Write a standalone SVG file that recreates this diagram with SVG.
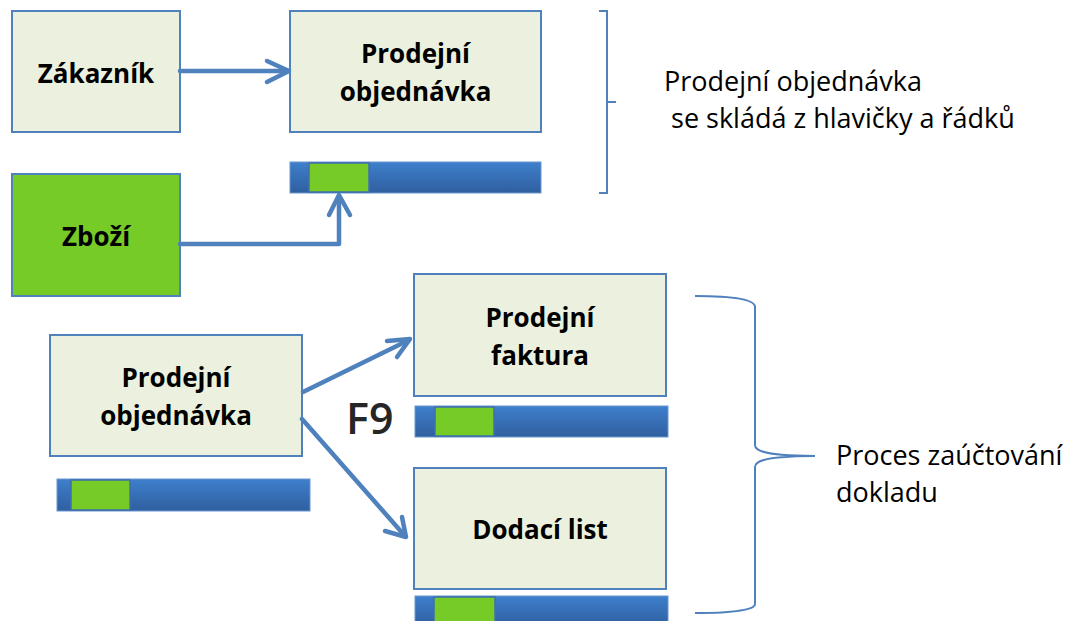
<svg xmlns="http://www.w3.org/2000/svg" width="1080" height="621" viewBox="0 0 1080 621">
<defs>
<linearGradient id="barg" x1="0" y1="0" x2="0" y2="1">
<stop offset="0" stop-color="#3E7FCC"/>
<stop offset="1" stop-color="#2F5F9F"/>
</linearGradient>
<style>
.box{fill:#EBF1DE;stroke:#4F81BD;stroke-width:2}
.green{fill:#77CB26;stroke:#4F81BD;stroke-width:2}
.bar{fill:url(#barg);stroke:#6B98D0;stroke-width:1}
.seg{fill:#77CB26;stroke:#3F6FAE;stroke-width:1.5}
.bt{font-family:"Open Sans","Liberation Sans",sans-serif;font-weight:bold;font-size:26px;fill:#000;text-anchor:middle}
.nt{font-family:"Open Sans","Liberation Sans",sans-serif;font-size:27px;fill:#000}
.conn{fill:none;stroke:#4F81BD;stroke-width:4.5;stroke-linecap:round;stroke-linejoin:round}
.brace{fill:none;stroke:#4F81BD;stroke-width:2}
</style>
</defs>
<rect width="1080" height="621" fill="#FFFFFF"/>

<g id="zakaznik">
<rect class="box" x="12" y="11" width="168" height="121"/>
<text class="bt" x="96" y="83">Zákazník</text>
</g>

<g id="prodejni-objednavka">
<rect class="box" x="290" y="11" width="251" height="121"/>
<text class="bt" x="415.5" y="63">Prodejní</text>
<text class="bt" x="415.5" y="101">objednávka</text>
<rect class="bar" x="290" y="162" width="251" height="31"/>
<rect class="seg" x="309" y="163" width="60" height="29"/>
</g>

<g id="zbozi">
<rect class="green" x="12" y="174" width="168" height="122"/>
<text class="bt" x="96" y="246">Zboží</text>
</g>

<g id="prodejni-objednavka-2">
<rect class="box" x="50" y="335" width="252" height="121"/>
<text class="bt" x="176" y="387">Prodejní</text>
<text class="bt" x="176" y="425">objednávka</text>
<rect class="bar" x="57" y="479" width="253" height="32"/>
<rect class="seg" x="71" y="480" width="59" height="30"/>
</g>

<g id="prodejni-faktura">
<rect class="box" x="414" y="274" width="252" height="122"/>
<text class="bt" x="540" y="327">Prodejní</text>
<text class="bt" x="540" y="365">faktura</text>
<rect class="bar" x="415" y="406" width="253" height="31"/>
<rect class="seg" x="435" y="407" width="59" height="29"/>
</g>

<g id="dodaci-list">
<rect class="box" x="414" y="468" width="252" height="121"/>
<text class="bt" x="540" y="539">Dodací list</text>
<rect class="bar" x="415" y="596" width="253" height="30"/>
<rect class="seg" x="434" y="597" width="61" height="28"/>
</g>

<g id="connectors">
<path class="conn" d="M180 71 H288"/>
<path class="conn" d="M267 61 L289 71 L267 82"/>
<path class="conn" d="M180 244 H339 V196"/>
<path class="conn" d="M329 215 L339 195 L350 215"/>
<path class="conn" d="M303 392 L409 340"/>
<path class="conn" d="M387 341 L410 339 L397 357"/>
<path class="conn" d="M302 419 L405 536"/>
<path class="conn" d="M385 531 L406 537 L402 517"/>
</g>

<g id="brace-1">
<path class="brace" d="M599 11 H607 V193 H599 M607 102 H616"/>
</g>

<g id="brace-2">
<path class="brace" d="M695 296 C725 296 755 298 755 307 V445 C755 452 770 456 815 456 C770 456 755 460 755 467 V604 C755 611 725 613 695 613"/>
</g>

<g id="labels">
<text class="nt" x="664" y="91" font-size="28">Prodejní objednávka</text>
<text class="nt" x="664" y="128" xml:space="preserve"> se skládá z hlavičky a řádků</text>
<text x="346" y="434" font-family="Open Sans, Liberation Sans, sans-serif" font-size="43" font-weight="600" fill="#262626">F9</text>
<text class="nt" x="836" y="465">Proces zaúčtování</text>
<text class="nt" x="836" y="502">dokladu</text>
</g>
</svg>
